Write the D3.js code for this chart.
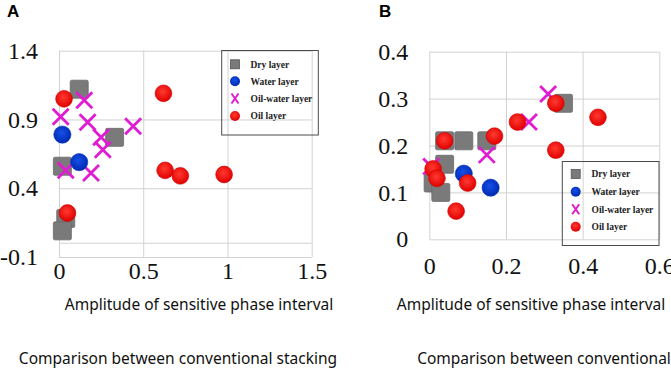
<!DOCTYPE html>
<html>
<head>
<meta charset="utf-8">
<script src="https://cdn.jsdelivr.net/npm/d3@7"></script>
<style>
  body { margin: 0; background: #fff; }
</style>
</head>
<body>
<svg id="chart" width="671" height="368"></svg>
<script>
// series names (legend order)
var seriesNames = ["Dry layer", "Water layer", "Oil-water layer", "Oil layer"];

// panel A values [amplitude, y]
var dryA = [[0.12, 1.12], [0.33, 0.77], [0.02, 0.56], [0.04, 0.18], [0.02, 0.09]];
var waterA = [[0.02, 0.79], [0.12, 0.59]];
var oilWaterA = [[0.01, 0.92], [0.15, 1.04], [0.17, 0.88], [0.25, 0.77], [0.26, 0.68], [0.44, 0.85], [0.19, 0.51], [0.04, 0.53]];
var oilA = [[0.03, 1.05], [0.62, 1.09], [0.63, 0.53], [0.72, 0.49], [0.98, 0.50], [0.05, 0.22]];
var xTicksA = [0, 0.5, 1, 1.5];
var yTicksA = [-0.1, 0.4, 0.9, 1.4];

// panel B values
var dryB = [[0.04, 0.21], [0.09, 0.21], [0.15, 0.21], [0.04, 0.16], [0.01, 0.12], [0.03, 0.10], [0.35, 0.29]];
var waterB = [[0.09, 0.14], [0.16, 0.11]];
var oilWaterB = [[0.31, 0.31], [0.26, 0.25], [0.15, 0.18], [0.005, 0.155]];
var oilB = [[0.04, 0.21], [0.17, 0.22], [0.23, 0.25], [0.33, 0.29], [0.44, 0.26], [0.33, 0.19], [0.01, 0.15], [0.02, 0.13], [0.10, 0.12], [0.07, 0.06]];
var xTicksB = [0, 0.2, 0.4, 0.6];
var yTicksB = [0, 0.1, 0.2, 0.3, 0.4];

var svg = d3.select("#chart");
var serif = "'Liberation Serif', 'Times New Roman', serif";

// gradients for the marker fills
var defs = svg.append("defs");
function radial(id, c0, c1) {
  var g = defs.append("radialGradient").attr("id", id).attr("cx", "45%").attr("cy", "40%").attr("r", "60%");
  g.append("stop").attr("offset", "0%").attr("stop-color", c0);
  g.append("stop").attr("offset", "100%").attr("stop-color", c1);
}
radial("gRed", "#ff3a30", "#e00000");
radial("gBlue", "#1450e8", "#0028b0");

function fmt(d) { return String(+d.toFixed(1)); }

function drawPanel(p) {
  var x = d3.scaleLinear().domain(p.xDomain).range(p.xRange),
      y = d3.scaleLinear().domain(p.yDomain).range(p.yRange);
  var w = p.xRange[1] - p.xRange[0],
      h = p.yRange[0] - p.yRange[1];

  var g = svg.append("g");

  // grid + y labels
  var ya = g.append("g")
    .attr("transform", "translate(" + p.xRange[0] + ",0)")
    .call(d3.axisLeft(y).tickValues(p.yTicks).tickSize(-w).tickPadding(21).tickFormat(fmt));
  ya.select(".domain").remove();
  ya.selectAll("line").attr("stroke", "#d2d2d2");

  var xa = g.append("g")
    .attr("transform", "translate(0," + p.yRange[0] + ")")
    .call(d3.axisBottom(x).tickValues(p.xTicks).tickSize(-h).tickPadding(p.xPad).tickFormat(fmt));
  xa.select(".domain").remove();
  xa.selectAll("line").attr("stroke", "#d2d2d2");

  g.selectAll(".tick text")
    .style("font-family", serif).style("font-size", "24px").attr("fill", "#111");

  (p.extraLines || []).forEach(function(v) {
    g.append("line")
      .attr("x1", p.xRange[0]).attr("x2", p.xRange[1])
      .attr("y1", y(v)).attr("y2", y(v))
      .attr("stroke", "#d2d2d2");
  });

  // squares
  g.selectAll(".dry").data(p.dry).enter().append("rect")
    .attr("x", function(d) { return x(d[0]) - 9; })
    .attr("y", function(d) { return y(d[1]) - 9; })
    .attr("width", 18).attr("height", 18).attr("rx", 1.5)
    .attr("fill", "#7a7a7a").attr("stroke", "#6a6a6a").attr("stroke-width", 0.8);

  // crosses
  g.selectAll(".ow").data(p.oilWater).enter().append("path")
    .attr("d", function(d) {
      var cx = x(d[0]), cy = y(d[1]), s = 8;
      return "M" + (cx - s) + "," + (cy - s) + "L" + (cx + s) + "," + (cy + s) +
             "M" + (cx - s) + "," + (cy + s) + "L" + (cx + s) + "," + (cy - s);
    })
    .attr("stroke", "#e01cd2").attr("stroke-width", 2.8).attr("fill", "none");

  g.selectAll(".water").data(p.water).enter().append("circle")
    .attr("cx", function(d) { return x(d[0]); })
    .attr("cy", function(d) { return y(d[1]); })
    .attr("r", 8.6).attr("fill", "url(#gBlue)").attr("stroke", "#0030c0").attr("stroke-width", 0.6);

  g.selectAll(".oil").data(p.oil).enter().append("circle")
    .attr("cx", function(d) { return x(d[0]); })
    .attr("cy", function(d) { return y(d[1]); })
    .attr("r", 8.4).attr("fill", "url(#gRed)").attr("stroke", "#d00000").attr("stroke-width", 0.6);

  // legend
  var L = p.legend;
  g.append("rect")
    .attr("x", L.x).attr("y", L.y).attr("width", L.w).attr("height", L.h)
    .attr("fill", "none").attr("stroke", "#4a4a4a").attr("stroke-width", 1);

  var item = g.selectAll(".legend").data(seriesNames).enter().append("g")
    .attr("class", "legend")
    .attr("transform", function(d, i) { return "translate(" + L.mx + "," + L.rows[i] + ")"; });

  item.each(function(d, i) {
    var s = d3.select(this);
    if (i === 0) s.append("rect").attr("x", -4.5).attr("y", -4.5).attr("width", 9).attr("height", 9)
      .attr("fill", "#7a7a7a").attr("stroke", "#555").attr("stroke-width", 0.8);
    if (i === 1) s.append("circle").attr("r", 5).attr("fill", "url(#gBlue)");
    if (i === 2) s.append("path").attr("d", "M-3.5,-5L3.5,5M-3.5,5L3.5,-5")
      .attr("stroke", "#e01cd2").attr("stroke-width", 2).attr("fill", "none");
    if (i === 3) s.append("circle").attr("r", 5).attr("fill", "url(#gRed)");
  });

  item.append("text")
    .attr("x", L.tx - L.mx)
    .attr("dy", "0.35em")
    .style("font-family", serif)
    .style("font-weight", "bold")
    .style("font-size", "9.5px")
    .attr("fill", "#222")
    .text(function(d) { return d; });

  // panel letter
  svg.append("text")
    .attr("x", p.letterX).attr("y", 17)
    .style("font-family", "'Liberation Sans', Arial, sans-serif")
    .style("font-weight", "bold").style("font-size", "17px")
    .text(p.letter);

  // captions
  svg.append("text")
    .attr("x", p.capX).attr("y", 310).attr("text-anchor", "middle")
    .style("font-family", "'Noto Sans', sans-serif").style("font-size", "15.5px").attr("fill", "#111")
    .text("Amplitude of sensitive phase interval");
  svg.append("text")
    .attr("x", p.cap2X).attr("y", 364).attr("text-anchor", "middle")
    .style("font-family", "'Noto Sans', sans-serif").style("font-size", "15.5px").attr("fill", "#111")
    .text(p.caption);
}

drawPanel({
  letter: "A", letterX: 7,
  xDomain: [0, 1.5], xRange: [59, 311.7],
  yDomain: [-0.1, 1.4], yRange: [257, 50.7],
  xTicks: xTicksA, yTicks: yTicksA, xPad: 5, extraLines: [0],
  dry: dryA, water: waterA, oilWater: oilWaterA, oil: oilA,
  legend: { x: 221.7, y: 50.5, w: 96.6, h: 84.5, mx: 235, tx: 250.5, rows: [64.3, 81.3, 98.5, 116] },
  capX: 199, cap2X: 178, caption: "Comparison between conventional stacking"
});

drawPanel({
  letter: "B", letterX: 379,
  xDomain: [0, 0.6], xRange: [429.3, 659.3],
  yDomain: [0, 0.4], yRange: [239.3, 51.7],
  xTicks: xTicksB, yTicks: yTicksB, xPad: 18,
  dry: dryB, water: waterB, oilWater: oilWaterB, oil: oilB,
  legend: { x: 562.3, y: 161.5, w: 96.7, h: 84, mx: 575.7, tx: 591.5, rows: [174, 191.7, 209.3, 226.7] },
  capX: 531, cap2X: 544, caption: "Comparison between conventional"
});
</script>
</body>
</html>
